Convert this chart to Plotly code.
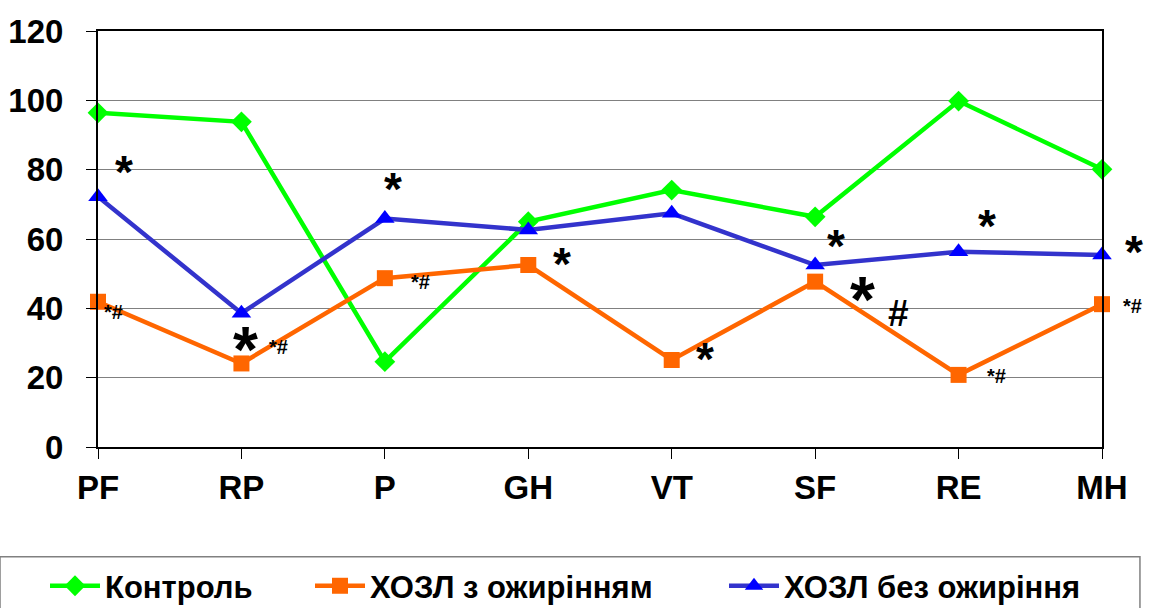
import plotly.graph_objects as go

categories = ["PF", "RP", "P", "GH", "VT", "SF", "RE", "MH"]
control = [96.4, 93.8, 24.6, 65.0, 74.1, 66.4, 99.8, 80.1]
copd_obese = [41.9, 24.1, 48.7, 52.5, 25.1, 47.7, 20.8, 41.2]
copd_nonobese = [72.2, 38.6, 65.9, 62.6, 67.4, 52.5, 56.3, 55.4]
y_ticks = [0, 20, 40, 60, 80, 100, 120]

# significance marks: text, x position (category index units), y value, font size
ann_text = ["*", "*#", "*", "*#", "*", "*#", "*", "*", "*", "*", "#", "*", "*#", "*", "*#"]
ann_x = [0.18, 0.105, 1.025, 1.255, 2.057, 2.25, 3.235, 4.232, 5.145, 5.327, 5.578, 6.198, 6.261, 7.223, 7.216]
ann_y = [79.3, 39.0, 28.0, 28.8, 74.4, 47.6, 52.8, 25.3, 57.9, 42.4, 38.4, 63.8, 20.5, 56.2, 40.7]
ann_size = [46, 20, 64, 20, 46, 20, 46, 46, 46, 64, 37, 46, 20, 46, 20]

FONT = "Liberation Sans, Arial, sans-serif"
xi = list(range(len(categories)))
x_span = len(categories) - 1

fig = go.Figure()
fig.add_trace(go.Scatter(
    x=xi, y=control, name="<b>Контроль</b>", mode="lines+markers", legend="legend",
    line=dict(color="#00FF00", width=4.5),
    marker=dict(symbol="diamond", size=16, color="#00FF00"),
    cliponaxis=False,
))
fig.add_trace(go.Scatter(
    x=xi, y=copd_obese, name="<b>ХОЗЛ з ожирінням</b>", mode="lines+markers", legend="legend2",
    line=dict(color="#FF6600", width=4.5),
    marker=dict(symbol="square", size=16, color="#FF6600"),
    cliponaxis=False,
))
fig.add_trace(go.Scatter(
    x=xi, y=copd_nonobese, name="<b>ХОЗЛ без ожиріння</b>", mode="lines+markers", legend="legend3",
    line=dict(color="#3333CC", width=4.5),
    marker=dict(symbol="triangle-up", size=17, color="#0000FF"),
    cliponaxis=False,
))

for t, x, y, s in zip(ann_text, ann_x, ann_y, ann_size):
    fig.add_annotation(x=x / x_span, y=y, xref="paper", yref="y", text="<b>%s</b>" % t,
                       showarrow=False, font=dict(family=FONT, size=s, color="black"),
                       xanchor="center", yanchor="middle")

# legend frame
fig.add_shape(type="rect", xref="paper", yref="paper",
              x0=-0.0976, x1=1.0378, y0=-0.264, y1=-0.45,
              line=dict(color="#808080", width=1.5), fillcolor="rgba(0,0,0,0)")

def leg(xc):
    return dict(xref="container", yref="container", x=xc, xanchor="left",
                y=0.036, yanchor="middle", orientation="h",
                font=dict(family=FONT, size=31, color="black"),
                itemwidth=50, bgcolor="rgba(0,0,0,0)", borderwidth=0)

fig.update_layout(
    width=1149, height=608,
    margin=dict(l=98, r=47, t=31, b=161, autoexpand=False),
    paper_bgcolor="white", plot_bgcolor="white",
    font=dict(family=FONT, color="black"),
    showlegend=True,
    legend=leg(45 / 1149),
    legend2=leg(310 / 1149),
    legend3=leg(724 / 1149),
    xaxis=dict(
        range=[0, x_span], tickmode="array", tickvals=xi,
        ticktext=["<b>%s</b>" % c for c in categories],
        tickfont=dict(family=FONT, size=33, color="black"),
        showgrid=False, zeroline=False, automargin=False,
        showline=True, linecolor="black", linewidth=2, mirror=True,
        ticks="outside", ticklen=10, tickcolor="black", tickwidth=1,
        ticklabelstandoff=0,
    ),
    yaxis=dict(
        range=[0, 120], tickmode="array", tickvals=y_ticks,
        ticktext=["<b>%d</b>" % v for v in y_ticks],
        tickfont=dict(family=FONT, size=33, color="black"),
        showgrid=True, gridcolor="#808080", gridwidth=1, zeroline=False, automargin=False,
        showline=True, linecolor="black", linewidth=2, mirror=True,
        ticks="outside", ticklen=10, tickcolor="black", tickwidth=1,
        ticklabelstandoff=16,
    ),
)

fig.write_html("out.html", config={"displayModeBar": False},
               post_script="document.body.style.margin='0';document.body.style.padding='0';")
